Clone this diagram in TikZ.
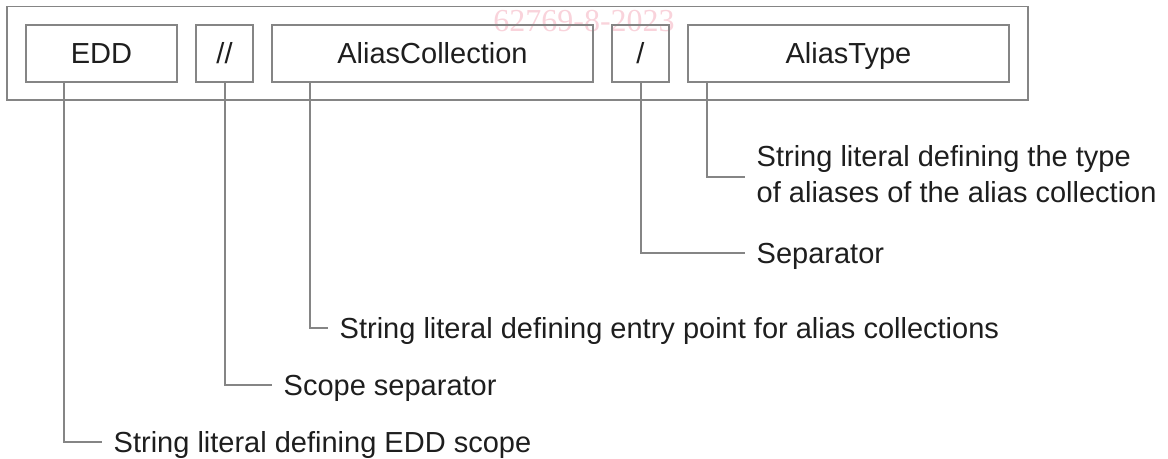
\documentclass[tikz,border=0pt]{standalone}
\usepackage{fontspec}
\setmainfont{Liberation Sans}
\newfontfamily\wmfont{Liberation Serif}
\usetikzlibrary{calc}
\definecolor{linegray}{HTML}{858585}
\definecolor{inkdark}{HTML}{1E1E1E}
\definecolor{wmpink}{HTML}{F9D3DB}
\begin{document}
\begin{tikzpicture}[x=0.75pt,y=-0.75pt,
  every node/.style={font=\fontsize{21.75pt}{27pt}\selectfont, text=inkdark},
  field/.style={draw=linegray, line width=0.9pt, minimum height=42.75pt,
    inner sep=0pt, text height=15.6pt, text depth=0pt},
  frame/.style={draw=linegray, line width=0.9pt, minimum width=765.75pt,
    minimum height=70.1pt, inner sep=0pt},
  leader/.style={draw=linegray, line width=0.9pt},
  notebase/.style={anchor=west, inner xsep=8.6pt, inner ysep=0pt},
  note/.style={notebase, text height=15.6pt, text depth=0pt},
]
\useasboundingbox (0,0) rectangle (1168,458);

% document number stamp
\node[font=\wmfont\fontsize{24pt}{24pt}\selectfont, text=wmpink] (stamp) at (584,21) {62769-8-2023};

% enclosing frame and the five fields of the identifier
\node[frame] (frame) at (517.5,53.25) {};
\node[field, minimum width=113.25pt] (edd)   at (101.5,53.5) {EDD};
\node[field, minimum width=42.75pt]  (scope) at (224.5,53.5) {//};
\node[field, minimum width=240.75pt] (coll)  at (432.5,53.5) {AliasCollection};
\node[field, minimum width=42.75pt]  (sep)   at (640.5,53.5) {/};
\node[field, minimum width=240.75pt] (type)  at (848.5,53.5) {AliasType};

% explanations
\node[note] (lEDD)   at (102,442) {String literal defining EDD scope};
\node[note] (lScope) at (272,385) {Scope separator};
\node[note] (lColl)  at (328,328) {String literal defining entry point for alias collections};
\node[note] (lSep)   at (745,253) {Separator};
\node[notebase] (lType) at (745,177)
  {\begin{tabular}{@{}l@{}}String literal defining the type\\of aliases of the alias collection\end{tabular}};

% leader lines
\draw[leader] ($(edd.south)+(-37.5,0)$) |- (lEDD.west);
\draw[leader] ($(scope.south)+(0.5,0)$) |- (lScope.west);
\draw[leader] ($(coll.south)+(-122.5,0)$) |- (lColl.west);
\draw[leader] ($(sep.south)+(0.5,0)$) |- (lSep.west);
\draw[leader] ($(type.south)+(-141.5,0)$) |- (lType.west);
\end{tikzpicture}
\end{document}
